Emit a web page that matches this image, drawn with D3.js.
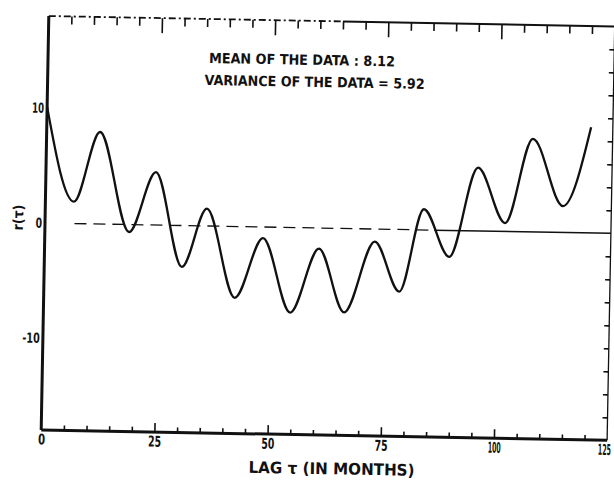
<!DOCTYPE html>
<html>
<head>
<meta charset="utf-8">
<script src="https://cdn.jsdelivr.net/npm/d3@7"></script>
<style>
html, body { margin: 0; padding: 0; background: #fff; }
svg { display: block; }
text { font-family: "DejaVu Sans Condensed", "Liberation Sans Narrow", "DejaVu Sans", sans-serif; fill: #111; }
</style>
</head>
<body>
<svg id="chart" width="614" height="480"></svg>
<script>
// =======================
// data
// =======================
const lagMonths = [0, 6.3, 11.8, 18.6, 24.3, 30.4, 35.7, 42.2, 48.2, 54.5, 60.6,
                   66.4, 72.9, 78.5, 83.6, 89.4, 95.4, 101.6, 107.4, 114.3, 120.2];
const rValues   = [10.1, 1.9, 8.0, -0.65, 4.6, -3.6, 1.5, -6.2, -0.96, -7.4, -1.8,
                   -7.3, -1.1, -5.4, 1.8, -2.3, 5.5, 0.73, 8.1, 2.3, 9.2];

const xLabels = [0, 25, 50, 75, 100, 125];
const xMinorTicks = [5, 10, 15, 20, 30, 35, 40, 45, 55, 60, 65, 70, 80, 85, 90, 95, 105, 110, 115, 120];
const yLabels = [10, 0, -10];
const rightTicks = [-16, -14, -12, -10, -8, -6, -4, -2, 2, 4, 6, 8, 10, 12, 14, 16];
const notes = ["MEAN OF THE DATA : 8.12", "VARIANCE OF THE DATA = 5.92"];

// =======================
// scales
// =======================
const x = d3.scaleLinear().domain([0, 125]).range([45, 611]);
const y = d3.scaleLinear().domain([-18, 18]).range([430, 16]);

const svg = d3.select("#chart");
svg.append("rect").attr("width", 614).attr("height", 480).attr("fill", "#fff");

// the scan sits a touch crooked, so tilt everything a little
const g = svg.append("g").attr("transform", `rotate(1.05, ${x(0)}, ${y(0)})`);

// frame
const ink = "#111";
g.append("line").attr("x1", x(0)).attr("x2", x(0)).attr("y1", y(18)).attr("y2", y(-18))
    .attr("stroke", ink).attr("stroke-width", 3);
g.append("line").attr("x1", x(0)).attr("x2", x(125)).attr("y1", y(-18)).attr("y2", y(-18))
    .attr("stroke", ink).attr("stroke-width", 3);
g.append("line").attr("x1", x(0)).attr("x2", x(65)).attr("y1", y(18)).attr("y2", y(18))
    .attr("stroke", ink).attr("stroke-width", 1.8).attr("stroke-dasharray", "7,3,2,3");
g.append("line").attr("x1", x(65)).attr("x2", x(125)).attr("y1", y(18)).attr("y2", y(18))
    .attr("stroke", ink).attr("stroke-width", 2);
g.append("line").attr("x1", x(125)).attr("x2", x(125)).attr("y1", y(18)).attr("y2", y(-18))
    .attr("stroke", ink).attr("stroke-width", 1.3);

function tickStyle(sel) {
    sel.select(".domain").remove();
    sel.selectAll("line").attr("stroke", ink).attr("stroke-width", 1.6);
}

// top ticks (pointing in)
g.append("g").attr("transform", `translate(0,${y(18)})`)
    .call(d3.axisBottom(x).tickValues(xMinorTicks).tickSize(8).tickFormat(""))
    .call(tickStyle);
g.append("g").attr("transform", `translate(0,${y(18)})`)
    .call(d3.axisBottom(x).tickValues(xLabels.slice(1, -1)).tickSize(15).tickFormat(""))
    .call(tickStyle);

// bottom ticks (pointing in)
g.append("g").attr("transform", `translate(0,${y(-18)})`)
    .call(d3.axisTop(x).tickValues(xMinorTicks).tickSize(5).tickFormat(""))
    .call(tickStyle);
g.append("g").attr("transform", `translate(0,${y(-18)})`)
    .call(d3.axisTop(x).tickValues(xLabels.slice(1, -1)).tickSize(9).tickFormat(""))
    .call(tickStyle);

// right edge ticks
g.append("g").attr("transform", `translate(${x(125)},0)`)
    .call(d3.axisLeft(y).tickValues(rightTicks).tickSize(5).tickFormat(""))
    .call(tickStyle);

// x labels
g.append("g").attr("transform", `translate(0,${y(-18)})`)
    .call(d3.axisBottom(x).tickValues(xLabels).tickSize(0).tickPadding(4).tickFormat(d => d))
    .call(s => s.select(".domain").remove())
    .selectAll("text")
    .attr("fill", ink).attr("font-size", 15).attr("font-weight", "bold")
    .style("font-family", "'DejaVu Sans Condensed', sans-serif")
    .attr("dx", d => d === 125 ? -3 : 0)
    .attr("textLength", d => String(d).length > 2 ? 13 : String(d).length * 6 + 1)
    .attr("lengthAdjust", "spacingAndGlyphs");

// y labels
g.append("g").attr("transform", `translate(${x(0)},0)`)
    .call(d3.axisLeft(y).tickValues(yLabels).tickSize(0).tickPadding(3).tickFormat(d => d < 0 ? "-" + (-d) : d))
    .call(s => s.select(".domain").remove())
    .selectAll("text")
    .attr("fill", ink).attr("font-size", 14).attr("font-weight", "bold")
    .style("font-family", "'DejaVu Sans Condensed', sans-serif")
    .attr("textLength", d => String(d).length * 5.5 + 1)
    .attr("lengthAdjust", "spacingAndGlyphs");

// zero reference line
g.append("line").attr("x1", x(6.5)).attr("x2", x(86)).attr("y1", y(0)).attr("y2", y(0))
    .attr("stroke", ink).attr("stroke-width", 1.3).attr("stroke-dasharray", "12,7");
g.append("line").attr("x1", x(86)).attr("x2", x(125)).attr("y1", y(0)).attr("y2", y(0))
    .attr("stroke", ink).attr("stroke-width", 1.5);

// autocorrelation curve
const pts = lagMonths.map((t, i) => [t, rValues[i]]);
g.append("path").datum(pts)
    .attr("fill", "none").attr("stroke", ink).attr("stroke-width", 2.3)
    .attr("stroke-linejoin", "round")
    .attr("d", d3.line().x(d => x(d[0])).y(d => y(d[1])).curve(d3.curveMonotoneX));

// notes
g.append("text").attr("x", 206).attr("y", 60).attr("font-size", 14).attr("font-weight", 600)
    .attr("textLength", 186).attr("lengthAdjust", "spacingAndGlyphs").text(notes[0]);
g.append("text").attr("x", 202).attr("y", 82).attr("font-size", 14).attr("font-weight", 600)
    .attr("textLength", 220).attr("lengthAdjust", "spacingAndGlyphs").text(notes[1]);

// axis titles
g.append("text").attr("x", 336).attr("y", 469).attr("text-anchor", "middle")
    .attr("font-size", 16).attr("font-weight", 600)
    .attr("textLength", 166).attr("lengthAdjust", "spacingAndGlyphs")
    .text("LAG τ (IN MONTHS)");
g.append("text").attr("transform", "translate(23,218) rotate(-90)").attr("text-anchor", "middle")
    .attr("font-size", 14).attr("font-weight", "bold").text("r(τ)");
</script>
</body>
</html>
